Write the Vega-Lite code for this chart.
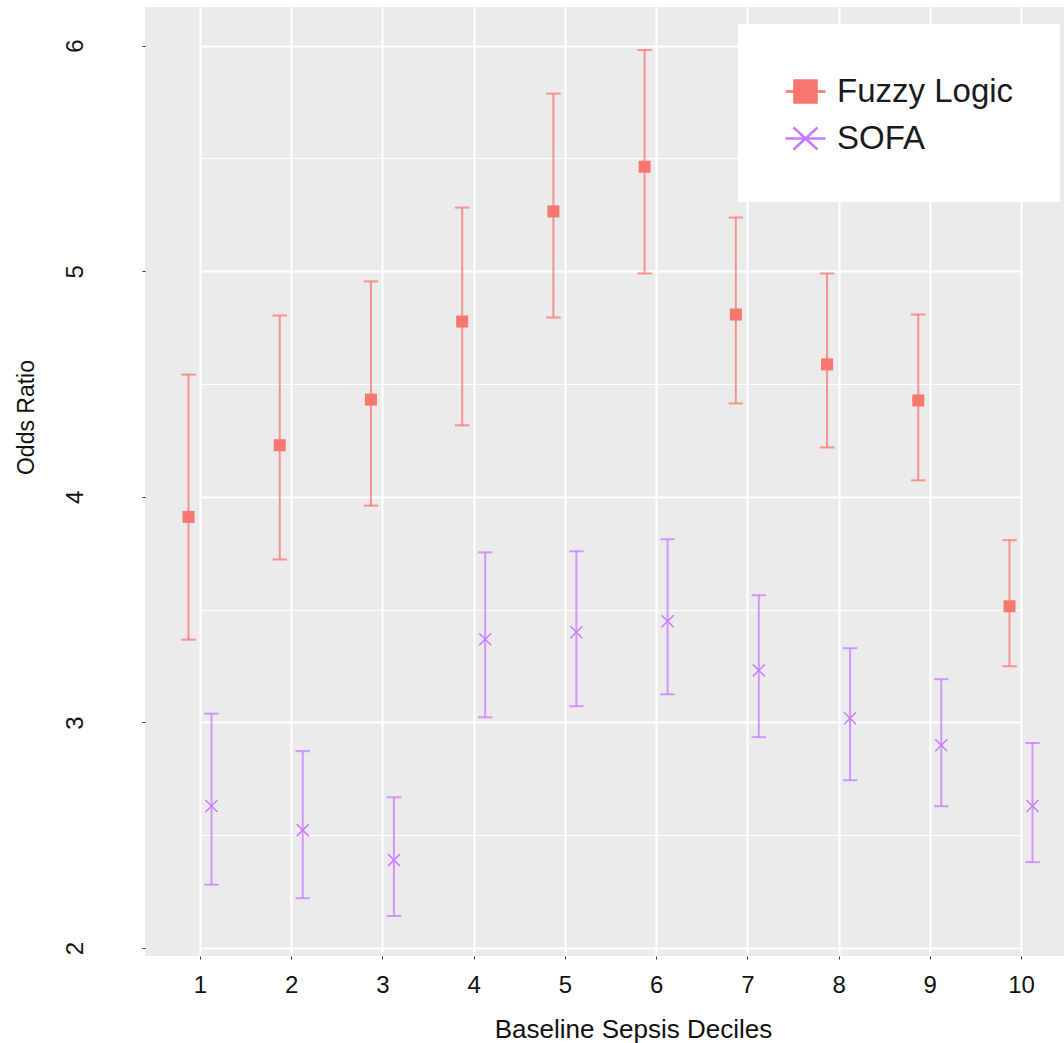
{
  "$schema": "https://vega.github.io/schema/vega-lite/v6.json",
  "width": 919,
  "height": 949,
  "autosize": "none",
  "padding": {"left": 145, "top": 7, "right": 0, "bottom": 87},
  "background": "white",
  "config": {
    "view": {"fill": "#EBEBEB", "stroke": null},
    "font": "Liberation Sans",
    "legend": {
      "orient": "none",
      "legendX": 593,
      "legendY": 17,
      "fillColor": "#FFFFFF",
      "padding": 46,
      "labelFontSize": 33,
      "labelColor": "#1a1a1a",
      "labelLimit": 500,
      "labelOffset": 10,
      "symbolSize": 1600,
      "symbolStrokeWidth": 2.5,
      "symbolOpacity": 1,
      "rowPadding": 8
    }
  },
  "data": {
    "values": [
      {"decile": 1, "series": "Fuzzy Logic", "or": 3.911, "lo": 3.367, "hi": 4.542},
      {"decile": 2, "series": "Fuzzy Logic", "or": 4.229, "lo": 3.722, "hi": 4.804},
      {"decile": 3, "series": "Fuzzy Logic", "or": 4.431, "lo": 3.961, "hi": 4.955},
      {"decile": 4, "series": "Fuzzy Logic", "or": 4.777, "lo": 4.317, "hi": 5.282},
      {"decile": 5, "series": "Fuzzy Logic", "or": 5.265, "lo": 4.795, "hi": 5.787},
      {"decile": 6, "series": "Fuzzy Logic", "or": 5.463, "lo": 4.990, "hi": 5.980},
      {"decile": 7, "series": "Fuzzy Logic", "or": 4.808, "lo": 4.414, "hi": 5.238},
      {"decile": 8, "series": "Fuzzy Logic", "or": 4.587, "lo": 4.219, "hi": 4.990},
      {"decile": 9, "series": "Fuzzy Logic", "or": 4.427, "lo": 4.073, "hi": 4.808},
      {"decile": 10, "series": "Fuzzy Logic", "or": 3.515, "lo": 3.249, "hi": 3.808},
      {"decile": 1, "series": "SOFA", "or": 2.630, "lo": 2.281, "hi": 3.039},
      {"decile": 2, "series": "SOFA", "or": 2.523, "lo": 2.221, "hi": 2.873},
      {"decile": 3, "series": "SOFA", "or": 2.390, "lo": 2.142, "hi": 2.669},
      {"decile": 4, "series": "SOFA", "or": 3.369, "lo": 3.023, "hi": 3.754},
      {"decile": 5, "series": "SOFA", "or": 3.400, "lo": 3.072, "hi": 3.759},
      {"decile": 6, "series": "SOFA", "or": 3.449, "lo": 3.125, "hi": 3.812},
      {"decile": 7, "series": "SOFA", "or": 3.231, "lo": 2.935, "hi": 3.564},
      {"decile": 8, "series": "SOFA", "or": 3.019, "lo": 2.744, "hi": 3.329},
      {"decile": 9, "series": "SOFA", "or": 2.899, "lo": 2.629, "hi": 3.192},
      {"decile": 10, "series": "SOFA", "or": 2.630, "lo": 2.381, "hi": 2.909}
    ]
  },
  "encoding": {
    "x": {
      "field": "decile",
      "type": "ordinal",
      "scale": {"type": "point", "range": [55, 876], "padding": 0},
      "axis": {
        "labelAngle": 0,
        "labelFontSize": 24,
        "labelColor": "#111111",
        "labelBaseline": "alphabetic",
        "labelPadding": 33,
        "tickSize": 3,
        "tickColor": "#333333",
        "domain": false,
        "grid": true,
        "gridColor": "#FFFFFF",
        "gridWidth": 2,
        "title": "Baseline Sepsis Deciles",
        "titleFontSize": 26,
        "titleFontWeight": "normal",
        "titleColor": "#111111",
        "titleX": 488,
        "titleY": 81,
        "titleAlign": "center",
        "titleBaseline": "alphabetic"
      }
    },
    "xOffset": {
      "field": "series",
      "type": "nominal",
      "scale": {"type": "point", "domain": ["Fuzzy Logic", "SOFA"], "range": [-11.5, 11.5], "padding": 0}
    }
  },
  "layer": [
    {
      "mark": {"type": "rule", "strokeWidth": 2, "opacity": 0.75},
      "encoding": {
        "y": {
          "field": "lo",
          "type": "quantitative",
          "scale": {"domain": [1.965, 6.171], "nice": false, "zero": false},
          "axis": {
            "values": [2, 2.5, 3, 3.5, 4, 4.5, 5, 5.5, 6],
            "labelExpr": "datum.value % 1 === 0 ? format(datum.value, 'd') : ''",
            "labelAngle": 270,
            "labelAlign": "center",
            "labelBaseline": "alphabetic",
            "labelPadding": 60,
            "labelFontSize": 24,
            "labelColor": "#111111",
            "tickSize": 3,
            "tickColor": "#333333",
            "tickOpacity": {"condition": {"test": "datum.value % 1 !== 0", "value": 0}, "value": 1},
            "gridColor": "#FFFFFF",
            "gridWidth": {"condition": {"test": "datum.value % 1 !== 0", "value": 1}, "value": 2},
            "domain": false,
            "title": "Odds Ratio",
            "titleFontSize": 23,
            "titleFontWeight": "normal",
            "titleColor": "#111111",
            "titleAngle": 270,
            "titleX": -112,
            "titleY": 410,
            "titleAlign": "center",
            "titleBaseline": "alphabetic"
          }
        },
        "y2": {"field": "hi"},
        "color": {
          "field": "series",
          "type": "nominal",
          "title": null,
          "scale": {"domain": ["Fuzzy Logic", "SOFA"], "range": ["#F8766D", "#C77CFF"]}
        }
      }
    },
    {
      "mark": {"type": "tick", "orient": "horizontal", "size": 14.5, "thickness": 2, "opacity": 0.75},
      "encoding": {
        "y": {"field": "lo", "type": "quantitative"},
        "color": {"field": "series", "type": "nominal", "title": null}
      }
    },
    {
      "mark": {"type": "tick", "orient": "horizontal", "size": 14.5, "thickness": 2, "opacity": 0.75},
      "encoding": {
        "y": {"field": "hi", "type": "quantitative"},
        "color": {"field": "series", "type": "nominal", "title": null}
      }
    },
    {
      "transform": [{"filter": "datum.series === 'Fuzzy Logic'"}],
      "mark": {"type": "point", "filled": true, "shape": "square", "size": 144, "opacity": 1},
      "encoding": {
        "y": {"field": "or", "type": "quantitative"},
        "color": {"field": "series", "type": "nominal", "title": null}
      }
    },
    {
      "transform": [{"filter": "datum.series === 'SOFA'"}],
      "mark": {"type": "point", "filled": false, "shape": "M-1,-1L1,1M1,-1L-1,1", "size": 144, "strokeWidth": 1.5, "opacity": 1},
      "encoding": {
        "y": {"field": "or", "type": "quantitative"},
        "color": {"field": "series", "type": "nominal", "title": null}
      }
    },
    {
      "mark": {"type": "point", "filled": true, "opacity": 0, "size": 1},
      "encoding": {
        "y": {"field": "or", "type": "quantitative"},
        "fill": {
          "field": "series",
          "type": "nominal",
          "title": null,
          "scale": {"domain": ["Fuzzy Logic", "SOFA"], "range": ["#F8766D", "#C77CFF"]}
        },
        "stroke": {
          "field": "series",
          "type": "nominal",
          "title": null,
          "scale": {"domain": ["Fuzzy Logic", "SOFA"], "range": ["#F8766D", "#C77CFF"]}
        },
        "shape": {
          "field": "series",
          "type": "nominal",
          "title": null,
          "scale": {"domain": ["Fuzzy Logic", "SOFA"], "range": ["M-1,0H1M-0.55,-0.55H0.55V0.55H-0.55Z", "M-1,0H1M-0.6,-0.55L0.6,0.55M0.6,-0.55L-0.6,0.55"]}
        }
      }
    }
  ]
}
